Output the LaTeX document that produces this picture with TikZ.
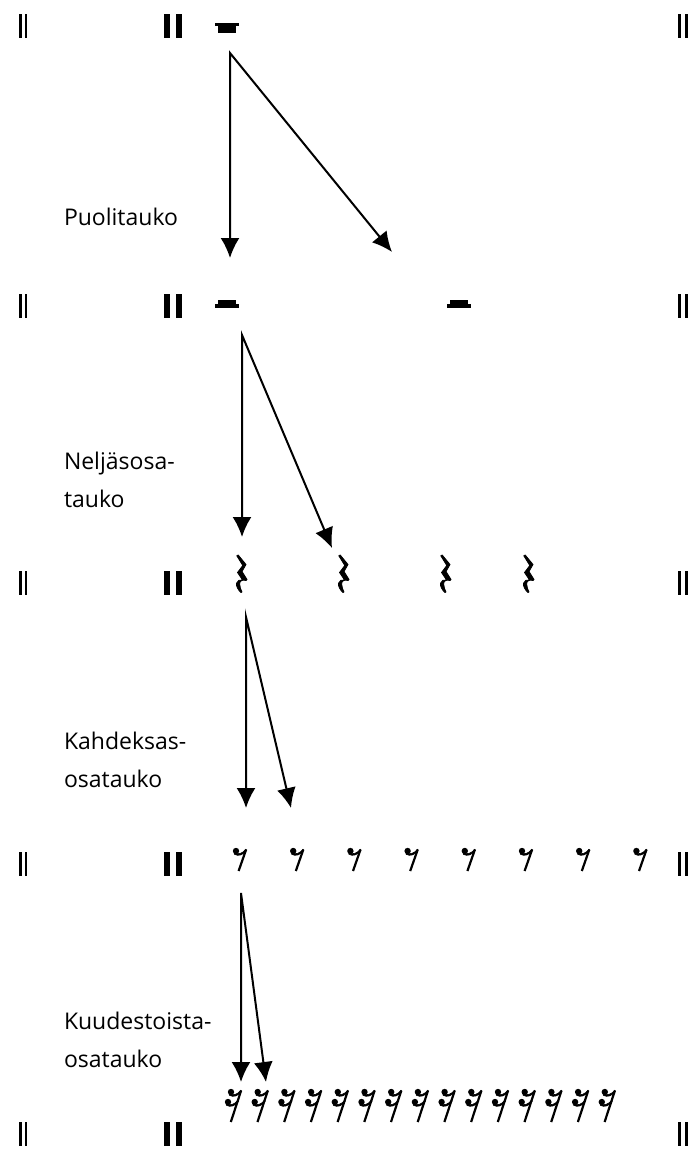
\documentclass[tikz,border=0pt]{standalone}
\usepackage{fontspec}
\setmainfont{Open Sans}
\usetikzlibrary{arrows.meta}

\tikzset{
	tname/.style={anchor=base west,inner sep=0pt,align=left,font=\fontsize{11.5pt}{19pt}\selectfont},
	% double barlines of one row, origin at the bottom
	barlines/.pic={
		\fill (19,0) rectangle (21.5,-24);
		\fill (24.5,0) rectangle (27,-24);
		\fill (164,0) rectangle (170,-24);
		\fill (176,0) rectangle (182,-24);
		\fill (678,0) rectangle (681,-24);
		\fill (685,0) rectangle (688,-24);
	},
	wholerest/.pic={
		\fill (-12,0) rectangle (12,3);
		\fill (-9,3) rectangle (9,10);
	},
	halfrest/.pic={
		\fill (-12,0) rectangle (12,4);
		\fill (-9,0) rectangle (9,-4.5);
	},
	quarterrest/.pic={
		\filldraw[line width=0.4pt,line join=round] (0.8,0.8) -- (2.2,0) -- (10,9.5) -- (6,16.5) -- (11,24.5) -- (10,25.5)
			.. controls (6.5,24.3) and (3.5,26) .. (3.6,29) .. controls (3.7,32) and (5,35) .. (6,37)
			-- (5,37.5) .. controls (2,35) and (0,31) .. (0.5,28.3)
			.. controls (1,25.5) and (4,24.5) .. (6.5,25) -- (1.5,17.5) -- (6.8,10.5) -- cycle;
	},
	eighthrest/.pic={
		\fill (3,3) circle (3.2);
		\filldraw[line width=0.3pt] (1.5,4.8) .. controls (5.5,7) and (10,5) .. (12.8,1.3) -- (13.6,2)
			.. controls (10.5,7) and (5.5,8.6) .. (1.5,6.3) -- cycle;
		\draw[line width=1.1pt] (13.1,1.6) -- (5.6,23);
	},
	sixteenthrest/.pic={
		\fill (6,3) circle (3.2);
		\filldraw[line width=0.3pt] (4.5,4.8) .. controls (8.5,7) and (13,5) .. (15.8,1.3) -- (16.6,2)
			.. controls (13.5,7) and (8.5,8.6) .. (4.5,6.3) -- cycle;
		\fill (3,13) circle (3.2);
		\filldraw[line width=0.3pt] (1.5,14.8) .. controls (5.5,17) and (10,15) .. (12.8,11.3) -- (13.6,12)
			.. controls (10.5,17) and (5.5,18.6) .. (1.5,16.3) -- cycle;
		\draw[line width=1.1pt] (16.1,1.6) -- (5.8,33);
	}
}

\begin{document}
\begin{tikzpicture}[x=0.5pt,y=-0.5pt,>={Latex[length=10pt,width=9.5pt]},line width=1pt]
	\useasboundingbox (0,0) rectangle (698,1155);

	% barlines
	\foreach \y in {38,318,595,876,1146}{
		\pic at (0,\y) {barlines};
	}

	% rests
	\pic at (226.5,23) {wholerest};
	\pic at (226.5,304) {halfrest};
	\pic at (459,304) {halfrest};
	\foreach \x in {236,338,440,523}{
		\pic at (\x,555) {quarterrest};
	}
	\foreach \i in {0,...,7}{
		\pic at (233+57.2*\i,848) {eighthrest};
	}
	\foreach \i in {0,...,14}{
		\pic at (225+26.7*\i,1089) {sixteenthrest};
	}

	% labels
	\node[tname] (puoli) at (63,226) {Puolitauko};
	\node[tname] (nelja) at (63,507) {Neljäsosa-\\tauko};
	\node[tname] (kahd) at (63,787) {Kahdeksas-\\osatauko};
	\node[tname] (kuud) at (63,1067) {Kuudestoista-\\osatauko};

	% arrows
	\coordinate (whole) at (230,53);
	\coordinate (half1) at (230,258);
	\coordinate (half2) at (392,252);
	\draw[<->] (half1) -- (whole) -- (half2);

	\coordinate (half) at (242,335);
	\coordinate (quarter1) at (242,537);
	\coordinate (quarter2) at (332,548);
	\draw[<->] (quarter1) -- (half) -- (quarter2);

	\coordinate (quarter) at (246,617);
	\coordinate (eighth1) at (246,808);
	\coordinate (eighth2) at (291,808);
	\draw[<->] (eighth1) -- (quarter) -- (eighth2);

	\coordinate (eighth) at (241,893);
	\coordinate (sixteenth1) at (241,1082);
	\coordinate (sixteenth2) at (266,1082);
	\draw[<->] (sixteenth1) -- (eighth) -- (sixteenth2);
\end{tikzpicture}
\end{document}
